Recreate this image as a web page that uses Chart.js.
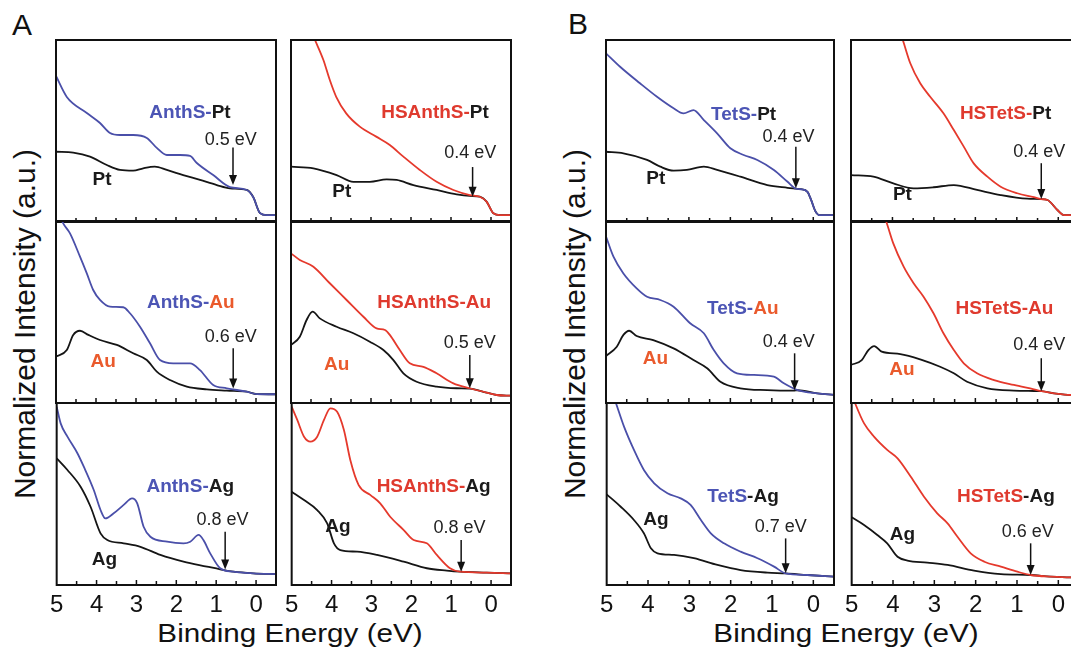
<!DOCTYPE html>
<html>

<head>
    <script src="https://cdn.jsdelivr.net/npm/chart.js@4.4.2/dist/chart.umd.min.js"></script>
    <style>
        body { margin: 0; width: 1071px; height: 651px; overflow: hidden; background: #fff; position: relative;
               font-family: "Liberation Sans", Arial, sans-serif; }
        canvas { position: absolute; }
        .t { position: absolute; line-height: 1; color: #111; white-space: nowrap; }
        .xt { font-size: 26px; top: 620px; transform: translateX(-50%) scaleX(1.14); }
        .yt { font-size: 30px; top: 324px; transform: translate(-50%, -50%) rotate(-90deg); }
    </style>
</head>

<body>
    <div class="t" style="left:12px;top:10px;font-size:30px">A</div>
    <div class="t" style="left:568px;top:9px;font-size:30px">B</div>
    <div class="t yt" style="left:25px">Normalized Intensity (a.u.)</div>
    <div class="t yt" style="left:575px">Normalized Intensity (a.u.)</div>
    <div class="t xt" style="left:290px">Binding Energy (eV)</div>
    <div class="t xt" style="left:846px">Binding Energy (eV)</div>
</body>
<script>
    // binding energy (eV) / normalized intensity (% of panel height)
    const xLabels = [5, 4, 3, 2, 1, 0];
    const xTicks = [4.5, 4, 3.5, 3, 2.5, 2, 1.5, 1, 0.5, 0];

    // A: AnthS / HSAnthS
    const anthsPt = [[5.0,80.2],[4.73,68.7],[4.23,59.9],[3.9,54.4],[3.65,48.9],[3.4,47.8],[3.07,47.8],[2.73,46.2],[2.48,40.7],[2.23,36.8],[1.9,36.8],[1.65,36.3],[1.48,32.4],[1.07,25.8],[0.65,19.2],[0.23,17.6],[0.07,13.7],[-0.1,4.9],[-0.27,3.8],[-0.5,3.8]];
    const ptA1 = [[5.0,38.6],[4.57,38.1],[4.15,35.9],[3.73,31.3],[3.4,28.6],[3.07,28.2],[2.82,29.5],[2.53,30.4],[2.23,28.6],[1.82,25.8],[1.4,23.1],[0.98,20.3],[0.65,18.5],[0.23,17.6],[0.07,13.7],[-0.1,4.9],[-0.27,3.8],[-0.5,3.8]];
    const hsanthsPt = [[5.0,135],[4.7,116],[4.4,100],[4.19,89],[4.03,78],[3.87,68.8],[3.62,59.7],[3.28,52.4],[2.87,46.9],[2.53,42.3],[2.19,35.9],[1.78,28.6],[1.36,22.1],[0.94,17.6],[0.53,14.8],[0.28,13.9],[0.11,11.2],[-0.06,4.8],[-0.23,3.8],[-0.5,3.8]];
    const ptA2 = [[5.0,30.4],[4.44,29.5],[3.86,25.8],[3.44,22.1],[3.03,22.1],[2.61,23.4],[2.36,23.1],[1.94,20.3],[1.36,17.6],[0.86,15.2],[0.53,14.3],[0.28,13.9],[0.11,11.2],[-0.06,4.8],[-0.23,3.8],[-0.5,3.8]];
    const anthsAu = [[5.0,108],[4.82,98.7],[4.65,93.2],[4.4,80.4],[4.23,71.2],[4.07,62.1],[3.9,56.6],[3.65,52.9],[3.32,52.6],[3.15,49.3],[2.9,41.9],[2.65,32.8],[2.4,23.6],[2.07,21.8],[1.65,21.8],[1.4,18.1],[1.07,9.9],[0.73,8.1],[0.23,6.2],[-0.02,4.9],[-0.5,4.8]];
    const auA3 = [[5.0,25.5],[4.73,29.1],[4.57,37.4],[4.4,39.7],[4.19,37.4],[3.9,34.6],[3.48,31.9],[3.07,27.3],[2.73,23.6],[2.48,17.2],[2.15,12.6],[1.73,9.0],[1.23,7.5],[0.73,6.8],[0.23,6.2],[-0.02,4.9],[-0.5,4.8]];
    const hsanthsAu = [[5.0,82.2],[4.78,78.6],[4.44,74.9],[4.03,65.8],[3.61,56.6],[3.19,47.4],[2.86,41.0],[2.65,40.1],[2.53,37.4],[2.28,29.1],[2.03,21.8],[1.69,19.9],[1.36,16.3],[0.94,10.8],[0.53,8.1],[0.11,5.7],[-0.14,4.4],[-0.5,4.0]];
    const auA4 = [[5.0,31.9],[4.78,36.4],[4.61,45.6],[4.46,50.2],[4.28,46.5],[3.86,41.9],[3.44,38.3],[3.03,33.7],[2.69,29.1],[2.44,23.6],[2.19,16.3],[1.86,11.7],[1.36,9.0],[0.86,8.1],[0.53,7.9],[0.11,5.7],[-0.14,4.4],[-0.5,4.0]];
    const anthsAg = [[5.0,98],[4.9,88.8],[4.73,81.5],[4.48,72.4],[4.32,65.0],[4.07,52.2],[3.9,41.2],[3.78,36.6],[3.57,39.4],[3.32,44],[3.11,47.6],[2.98,44.9],[2.82,32],[2.65,26.5],[2.23,23.8],[1.82,22.9],[1.65,23.8],[1.44,27.5],[1.32,24.7],[1.15,17.4],[0.9,9.2],[0.57,7.3],[0.07,6.4],[-0.5,6]];
    const agA5 = [[5.0,69.6],[4.73,63.2],[4.4,54],[4.15,43],[3.9,28.4],[3.73,24.7],[3.32,22.9],[2.9,21],[2.4,16.5],[1.82,12.8],[1.23,10.1],[0.9,8.6],[0.57,7.3],[0.07,6.4],[-0.5,6]];
    const hsanthsAg = [[5.0,98],[4.86,90.7],[4.69,81.5],[4.53,78.8],[4.36,81.5],[4.19,90.7],[4.03,97.1],[3.86,95.2],[3.69,85.2],[3.53,68.7],[3.32,54.9],[3.03,49.5],[2.78,44.9],[2.53,37.5],[2.19,30.2],[1.94,24.7],[1.61,22.9],[1.36,16.5],[1.03,9.2],[0.78,7.3],[0.11,6.8],[-0.5,6.4]];
    const agA6 = [[5.0,51.3],[4.69,46.7],[4.36,41.2],[4.11,33.9],[3.94,22.9],[3.78,19.2],[3.36,18.3],[2.86,16.5],[2.19,12.8],[1.61,9.2],[1.11,7.9],[0.78,7.3],[0.11,6.8],[-0.5,6.4]];

    // B: TetS / HSTetS
    const tetsPt = [[5.0,92.7],[4.66,85.3],[4.18,76.2],[3.77,68.8],[3.37,62.5],[3.13,59.7],[2.89,61.5],[2.64,56],[2.32,48.7],[2.0,40.5],[1.68,36.8],[1.35,34.1],[0.95,28.6],[0.62,22.1],[0.42,18.3],[0.3,18],[0.14,16.6],[0.05,12],[-0.05,6],[-0.15,3.8],[-0.5,3.8]];
    const ptB1 = [[5.0,38.6],[4.58,37.7],[4.01,34.1],[3.69,30.4],[3.37,28.2],[3.05,28.6],[2.64,30.4],[2.32,28.6],[1.76,24.9],[1.11,20.3],[0.62,18.8],[0.42,18.3],[0.3,18],[0.14,16.6],[0.05,12],[-0.05,6],[-0.15,3.8],[-0.5,3.8]];
    const hstetsPt = [[5.0,180],[4.2,130],[3.75,100],[3.57,87.2],[3.33,76.2],[3.09,68.8],[2.77,59.7],[2.52,50.5],[2.28,41.4],[2.04,32.2],[1.71,24.9],[1.39,19.4],[0.99,15.8],[0.59,13.6],[0.42,12.6],[0.26,12.1],[0.02,6.6],[-0.14,3.8],[-0.5,3.8]];
    const ptB2 = [[5.0,25.8],[4.46,24.9],[3.98,21.2],[3.49,18.5],[3.01,19.1],[2.52,20.3],[1.96,17.6],[1.39,14.8],[0.75,12.8],[0.42,12.6],[0.26,12.1],[0.02,6.6],[-0.14,3.8],[-0.5,3.8]];
    const tetsAu = [[5.0,91.5],[4.82,80.4],[4.58,71.2],[4.26,63],[4.01,58.4],[3.69,56.6],[3.37,52.9],[2.97,43.8],[2.64,38.3],[2.4,29.1],[2.16,21.8],[1.84,16.3],[1.43,15.4],[0.95,14.5],[0.71,10.8],[0.38,7.1],[-0.1,5.3],[-0.5,4.5]];
    const auB3 = [[5.0,25.8],[4.74,30.9],[4.58,37.4],[4.44,39.7],[4.26,36.8],[3.86,34.6],[3.37,30],[2.89,23.6],[2.56,19.1],[2.24,11.7],[1.76,8.1],[1.11,7.1],[0.47,6.8],[0.38,7.0],[-0.1,5.3],[-0.5,4.5]];
    const hstetsAu = [[5.0,145],[4.5,118],[4.15,99.6],[3.98,87.7],[3.73,74.9],[3.49,65.8],[3.25,58.4],[3.01,49.3],[2.77,38.3],[2.52,29.1],[2.28,21.8],[1.96,16.3],[1.55,12.6],[1.07,9.9],[0.59,7.5],[0.4,6.5],[0.1,5.3],[-0.3,4.4],[-0.5,4.4]];
    const auB4 = [[5.0,20.9],[4.74,23.6],[4.58,29.1],[4.44,31.3],[4.26,28.2],[3.81,26.9],[3.33,24],[2.85,19.9],[2.52,16.3],[2.2,11.7],[1.71,8.1],[1.07,6.8],[0.59,6.6],[0.4,6.5],[0.1,5.3],[-0.3,4.4],[-0.5,4.4]];
    const tetsAg = [[5.0,115],[4.76,98.9],[4.58,87],[4.34,74.2],[4.1,63.2],[3.85,55.9],[3.53,50.4],[3.21,47.6],[2.97,44],[2.72,35.7],[2.48,28.4],[2.16,22.9],[1.76,18.3],[1.35,14.7],[0.95,10.1],[0.67,6.4],[0.14,5.5],[-0.5,4.6]];
    const agB5 = [[5.0,49.8],[4.66,43],[4.34,35.7],[4.1,28.4],[3.93,20.2],[3.77,17.4],[3.37,16.5],[2.89,14.7],[2.32,11],[1.76,8.2],[1.11,6.8],[0.67,6.4],[0.14,5.5],[-0.5,4.6]];
    const hstetsAg = [[5.0,105],[4.9,98.9],[4.7,88.8],[4.46,81.5],[4.14,74.2],[3.89,69.6],[3.57,59.5],[3.25,48.5],[2.93,39.4],[2.68,33.9],[2.44,26.5],[2.12,17.4],[1.79,12.8],[1.39,10.1],[0.99,7.3],[0.67,5.5],[0.18,4.6],[-0.3,4.2],[-0.5,4.2]];
    const agB6 = [[5.0,37.2],[4.7,33],[4.38,27.5],[4.14,22.9],[3.89,15.5],[3.65,13.4],[3.17,12.3],[2.68,11],[2.04,7.9],[1.39,6],[0.67,5.5],[0.18,4.6],[-0.3,4.2],[-0.5,4.2]];

    const BLUE = '#4a4fa9', RED = '#e5392c';
    const BLUE_T = '#4c55b5', RED_T = '#df3a2e', AU_T = '#ea5a2c', DARK = '#1a1a1a';

    // panel frames on the page
    const colLeft = [56, 291, 606, 851];
    const colWidth = [220, 220, 228, 228];
    const rowTop = [40, 221, 403];
    const rowH = 182;
    const PAD = 12, XH = 40;

    // name: [coloured part, metal part], pos values are [eV, %]
    const panels = [
        { col: 0, row: 0, mol: anthsPt, ref: ptA1, color: BLUE, name: ['AnthS-', 'Pt'], nameCol: [BLUE_T, DARK], namePos: [1.65, 60], metal: 'Pt', metalCol: DARK, metalPos: [3.85, 23], ev: '0.5 eV', evPos: [0.63, 45], arrow: [0.575, 41, 20.3] },
        { col: 1, row: 0, mol: hsanthsPt, ref: ptA2, color: RED, name: ['HSAnthS-', 'Pt'], nameCol: [RED_T, DARK], namePos: [1.4, 60], metal: 'Pt', metalCol: DARK, metalPos: [3.73, 16.5], ev: '0.4 eV', evPos: [0.52, 37.9], arrow: [0.46, 30.2, 13.9] },
        { col: 0, row: 1, mol: anthsAu, ref: auA3, color: BLUE, name: ['AnthS-', 'Au'], nameCol: [BLUE_T, AU_T], namePos: [1.63, 54.8], metal: 'Au', metalCol: AU_T, metalPos: [3.82, 22.7], ev: '0.6 eV', evPos: [0.63, 36.4], arrow: [0.57, 30.1, 8.0] },
        { col: 1, row: 1, mol: hsanthsAu, ref: auA4, color: RED, name: ['HSAnthS-', 'Au'], nameCol: [RED_T, RED_T], namePos: [1.42, 54.8], metal: 'Au', metalCol: AU_T, metalPos: [3.86, 20.9], ev: '0.5 eV', evPos: [0.53, 32.8], arrow: [0.53, 26.4, 8.1] },
        { col: 0, row: 2, mol: anthsAg, ref: agA5, color: BLUE, name: ['AnthS-', 'Ag'], nameCol: [BLUE_T, DARK], namePos: [1.65, 54], metal: 'Ag', metalCol: DARK, metalPos: [3.8, 13.7], ev: '0.8 eV', evPos: [0.84, 35.7], arrow: [0.775, 29.3, 8.5] },
        { col: 1, row: 2, mol: hsanthsAg, ref: agA6, color: RED, name: ['HSAnthS-', 'Ag'], nameCol: [RED_T, DARK], namePos: [1.44, 54], metal: 'Ag', metalCol: DARK, metalPos: [3.84, 32], ev: '0.8 eV', evPos: [0.79, 31.1], arrow: [0.75, 24.7, 7.3] },
        { col: 2, row: 0, mol: tetsPt, ref: ptB1, color: BLUE, name: ['TetS-', 'Pt'], nameCol: [BLUE_T, DARK], namePos: [1.68, 58.8], metal: 'Pt', metalCol: DARK, metalPos: [3.8, 24], ev: '0.4 eV', evPos: [0.6, 46.9], arrow: [0.42, 41.4, 18.5] },
        { col: 3, row: 0, mol: hstetsPt, ref: ptB2, color: RED, name: ['HSTetS-', 'Pt'], nameCol: [RED_T, DARK], namePos: [1.27, 59.7], metal: 'Pt', metalCol: DARK, metalPos: [3.76, 14.8], ev: '0.4 eV', evPos: [0.46, 38.6], arrow: [0.41, 32.3, 12.6] },
        { col: 2, row: 1, mol: tetsAu, ref: auB3, color: BLUE, name: ['TetS-', 'Au'], nameCol: [BLUE_T, AU_T], namePos: [1.7, 52], metal: 'Au', metalCol: AU_T, metalPos: [3.81, 24.5], ev: '0.4 eV', evPos: [0.59, 33.7], arrow: [0.45, 27.3, 7.0] },
        { col: 3, row: 1, mol: hstetsAu, ref: auB4, color: RED, name: ['HSTetS-', 'Au'], nameCol: [RED_T, RED_T], namePos: [1.3, 52], metal: 'Au', metalCol: AU_T, metalPos: [3.77, 18.1], ev: '0.4 eV', evPos: [0.46, 31.9], arrow: [0.41, 24.6, 6.5] },
        { col: 2, row: 2, mol: tetsAg, ref: agB5, color: BLUE, name: ['TetS', '-Ag'], nameCol: [BLUE_T, DARK], namePos: [1.7, 48.5], metal: 'Ag', metalCol: DARK, metalPos: [3.81, 35.7], ev: '0.7 eV', evPos: [0.79, 32], arrow: [0.67, 25.6, 6.4] },
        { col: 3, row: 2, mol: hstetsAg, ref: agB6, color: RED, name: ['HSTetS', '-Ag'], nameCol: [RED_T, DARK], namePos: [1.27, 48.5], metal: 'Ag', metalCol: DARK, metalPos: [3.77, 27.5], ev: '0.6 eV', evPos: [0.74, 29.3], arrow: [0.67, 22.9, 5.5] }
    ];

    const FONT = '"Liberation Sans", Arial, sans-serif';

    function panelPlugin(p) {
        return {
            id: 'panel',
            afterDatasetsDraw(chart) {
                const ctx = chart.ctx, a = chart.chartArea;
                const X = v => chart.scales.x.getPixelForValue(v);
                const Y = v => chart.scales.y.getPixelForValue(v);
                ctx.save();
                ctx.strokeStyle = '#111';
                ctx.lineWidth = 2;
                ctx.strokeRect(a.left, a.top, a.width, a.height);
                // ticks point inward from the bottom edge
                ctx.lineWidth = 1.5;
                ctx.beginPath();
                xTicks.forEach(v => {
                    ctx.moveTo(X(v), a.bottom);
                    ctx.lineTo(X(v), a.bottom - (Number.isInteger(v) ? 5 : 4));
                });
                ctx.stroke();

                ctx.textBaseline = 'middle';
                ctx.font = 'bold 19px ' + FONT;
                const w1 = ctx.measureText(p.name[0]).width, w2 = ctx.measureText(p.name[1]).width;
                const nx = X(p.namePos[0]) - (w1 + w2) / 2, ny = Y(p.namePos[1]);
                ctx.textAlign = 'left';
                ctx.fillStyle = p.nameCol[0];
                ctx.fillText(p.name[0], nx, ny);
                ctx.fillStyle = p.nameCol[1];
                ctx.fillText(p.name[1], nx + w1, ny);

                ctx.textAlign = 'center';
                ctx.fillStyle = p.metalCol;
                ctx.fillText(p.metal, X(p.metalPos[0]), Y(p.metalPos[1]));

                ctx.font = '18px ' + FONT;
                ctx.fillStyle = '#222';
                ctx.fillText(p.ev, X(p.evPos[0]), Y(p.evPos[1]));

                // arrow
                const ax = X(p.arrow[0]), y1 = Y(p.arrow[1]), y2 = Y(p.arrow[2]);
                ctx.strokeStyle = '#111';
                ctx.lineWidth = 1.5;
                ctx.beginPath();
                ctx.moveTo(ax, y1);
                ctx.lineTo(ax, y2 - 7);
                ctx.stroke();
                ctx.fillStyle = '#111';
                ctx.beginPath();
                ctx.moveTo(ax - 4, y2 - 10);
                ctx.lineTo(ax + 4, y2 - 10);
                ctx.lineTo(ax, y2);
                ctx.closePath();
                ctx.fill();
                ctx.restore();
            }
        };
    }

    panels.forEach(p => {
        const bottom = p.row === 2;
        const canvas = document.createElement('canvas');
        canvas.width = colWidth[p.col] + 2 * PAD;
        canvas.height = rowH + PAD + (bottom ? XH : PAD);
        canvas.style.left = (colLeft[p.col] - PAD) + 'px';
        canvas.style.top = (rowTop[p.row] - PAD) + 'px';
        document.body.appendChild(canvas);

        const xScale = {
            type: 'linear', reverse: true, min: -0.5, max: 5,
            display: bottom,
            grid: { display: false, drawTicks: false },
            border: { display: false },
            ticks: { padding: 6, color: '#111', font: { size: 24, family: FONT }, maxRotation: 0, autoSkip: false },
            afterBuildTicks: s => { s.ticks = xLabels.map(v => ({ value: v })); }
        };
        if (bottom) xScale.afterFit = s => { s.height = XH; };

        new Chart(canvas, {
            type: 'line',
            data: {
                datasets: [
                    { data: p.mol.map(([x, y]) => ({ x, y })), borderColor: p.color, borderWidth: 1.8 },
                    { data: p.ref.map(([x, y]) => ({ x, y })), borderColor: '#151515', borderWidth: 1.8 }
                ]
            },
            options: {
                responsive: false,
                animation: false,
                events: [],
                layout: { padding: { left: PAD, right: PAD, top: PAD, bottom: bottom ? 0 : PAD } },
                elements: { point: { radius: 0 }, line: { tension: 0.3, cubicInterpolationMode: 'monotone' } },
                plugins: { legend: { display: false }, tooltip: { enabled: false } },
                scales: {
                    x: xScale,
                    y: { min: 0, max: 100, display: false }
                }
            },
            plugins: [panelPlugin(p)]
        });
    });
</script>

</html>
